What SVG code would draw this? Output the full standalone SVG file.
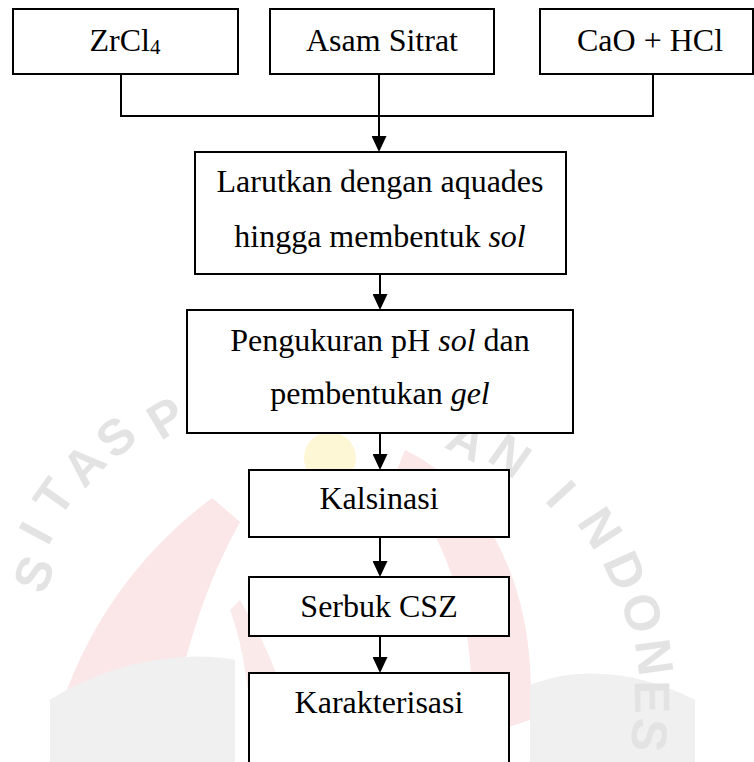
<svg xmlns="http://www.w3.org/2000/svg" width="754" height="762" viewBox="0 0 754 762">
  <style>
    .box { fill: #ffffff; stroke: #000000; stroke-width: 2; }
    .lbl { font-family: "Liberation Serif", "Times New Roman", serif; font-size: 32px; fill: #000000; text-anchor: middle; }
    .it { font-style: italic; }
    .con { fill: none; stroke: #000000; stroke-width: 2; }
    .wm { font-family: "Liberation Sans", Arial, sans-serif; font-weight: bold; font-size: 50px; fill: #e3e3e3; text-anchor: middle; }
  </style>
  <defs>
    <marker id="arr" viewBox="0 0 16 15" markerWidth="16" markerHeight="15" refX="6" refY="7.5" orient="auto" markerUnits="userSpaceOnUse">
      <path d="M0,0 L16,7.5 L0,15 Z" fill="#000000"/>
    </marker>
  </defs>
  <rect width="754" height="762" fill="#ffffff"/>

  <g id="watermark">
    <path d="M 50 745 C 75 640 135 555 212 498 L 240 522 C 205 585 180 660 165 762 L 50 762 Z" fill="#fbe7e7"/>
    <path d="M 405 450 C 470 480 540 570 530 720 L 470 740 C 480 630 450 540 395 475 Z" fill="#fbe7e7"/>
    <path d="M 230 610 C 245 650 250 700 255 762 L 300 762 C 290 700 270 650 240 600 Z" fill="#fbeaea"/>
    <circle cx="330" cy="458" r="26" fill="#fdf7d6"/>
    <path d="M 50 700 C 110 660 190 650 235 660 L 235 762 L 50 762 Z" fill="#f0f0f0"/>
    <path d="M 530 685 C 580 665 640 672 695 700 L 695 762 L 530 762 Z" fill="#f0f0f0"/>
    <g class="wm">
      <text transform="translate(34,574) rotate(-68.5)" dy="17">S</text>
      <text transform="translate(36,533) rotate(-61.9)" dy="17">I</text>
      <text transform="translate(54,497) rotate(-54.9)" dy="17">T</text>
      <text transform="translate(84,465) rotate(-47.3)" dy="17">A</text>
      <text transform="translate(116,437) rotate(-40)" dy="17">S</text>
      <text transform="translate(166,418) rotate(-30.9)" dy="17">P</text>
      <text transform="translate(467,440) rotate(26.9)" dy="17">A</text>
      <text transform="translate(510,456) rotate(35.2)" dy="17">N</text>
      <text transform="translate(561,494) rotate(47.3)" dy="17">I</text>
      <text transform="translate(600,528) rotate(56.7)" dy="17">N</text>
      <text transform="translate(625,571) rotate(65.7)" dy="17">D</text>
      <text transform="translate(642,613) rotate(73.9)" dy="17">O</text>
      <text transform="translate(654,657) rotate(82.3)" dy="17">N</text>
      <text transform="translate(652,697) rotate(89.5)" dy="17">E</text>
      <text transform="translate(649,735) rotate(96.4)" dy="17">S</text>
    </g>
  </g>

  <g id="connectors">
    <polyline class="con" points="121,74 121,116 653,116 653,74"/>
    <line class="con" x1="379" y1="74" x2="379" y2="142" marker-end="url(#arr)"/>
    <line class="con" x1="380" y1="274" x2="380" y2="300" marker-end="url(#arr)"/>
    <line class="con" x1="380" y1="433" x2="380" y2="460" marker-end="url(#arr)"/>
    <line class="con" x1="380" y1="537" x2="380" y2="567" marker-end="url(#arr)"/>
    <line class="con" x1="380" y1="636" x2="380" y2="663" marker-end="url(#arr)"/>
  </g>

  <g id="n-zrcl4">
    <rect class="box" x="13" y="9" width="225" height="65"/>
    <text class="lbl" x="125" y="51">ZrCl<tspan font-size="21" dy="3">4</tspan></text>
  </g>
  <g id="n-asam">
    <rect class="box" x="270" y="9" width="224" height="65"/>
    <text class="lbl" x="382" y="51">Asam Sitrat</text>
  </g>
  <g id="n-cao">
    <rect class="box" x="540" y="9" width="213" height="65"/>
    <text class="lbl" x="650" y="51">CaO + HCl</text>
  </g>
  <g id="n-larutkan">
    <rect class="box" x="195" y="152" width="371" height="122"/>
    <text class="lbl" x="380" y="192">Larutkan dengan aquades</text>
    <text class="lbl" x="380" y="247">hingga membentuk <tspan class="it">sol</tspan></text>
  </g>
  <g id="n-pengukuran">
    <rect class="box" x="187" y="310" width="386" height="123"/>
    <text class="lbl" x="380" y="351">Pengukuran pH <tspan class="it">sol</tspan> dan</text>
    <text class="lbl" x="380" y="404">pembentukan <tspan class="it">gel</tspan></text>
  </g>
  <g id="n-kalsinasi">
    <rect class="box" x="249" y="470" width="260" height="67"/>
    <text class="lbl" x="379" y="509">Kalsinasi</text>
  </g>
  <g id="n-serbuk">
    <rect class="box" x="249" y="577" width="260" height="59"/>
    <text class="lbl" x="379" y="617">Serbuk CSZ</text>
  </g>
  <g id="n-karakterisasi">
    <rect class="box" x="249" y="673" width="260" height="100"/>
    <text class="lbl" x="379" y="713">Karakterisasi</text>
  </g>
</svg>
